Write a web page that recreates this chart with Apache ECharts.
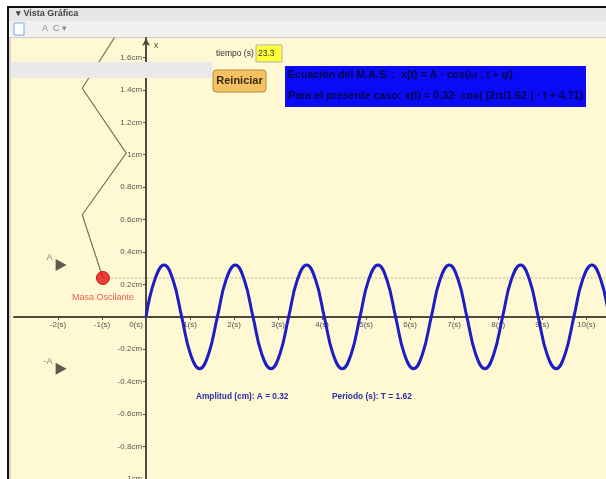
<!DOCTYPE html>
<html><head><meta charset="utf-8">
<script src="https://cdn.jsdelivr.net/npm/echarts@6/dist/echarts.min.js"></script>
<style>html,body{margin:0;padding:0;background:#fff}#c{width:606px;height:479px}</style>
</head><body><div id="c"></div>
<script>
// Oscillation curve x(t) (t in s, x in cm)
const curveT = [0,0.20,0.41,0.61,0.81,1.01,1.22,1.42,1.62,1.82,2.03,2.23,2.43,2.63,2.84,3.04,3.24,3.44,3.65,3.85,4.05,4.25,4.46,4.66,4.86,5.06,5.27,5.47,5.67,5.87,6.08,6.28,6.48,6.68,6.89,7.09,7.29,7.49,7.70,7.90,8.10,8.30,8.51,8.71,8.91,9.11,9.32,9.52,9.72,9.92,10.13,10.33,10.53,10.73];
const curveX = [0,0.23,0.32,0.23,0,-0.23,-0.32,-0.23, 0,0.23,0.32,0.23,0,-0.23,-0.32,-0.23, 0,0.23,0.32,0.23,0,-0.23,-0.32,-0.23, 0,0.23,0.32,0.23,0,-0.23,-0.32,-0.23, 0,0.23,0.32,0.23,0,-0.23,-0.32,-0.23, 0,0.23,0.32,0.23,0,-0.23,-0.32,-0.23, 0,0.23,0.32,0.23,0,-0.23];
// Spring polyline vertices
const springT = [-0.70,-1.45,-0.45,-1.45,-0.98];
const springX = [1.73,1.41,1.01,0.63,0.24];
// Oscillating mass and its level line
const massT = [-0.98];
const massX = [0.24];
const levelT = [-0.98, 10.6];
const levelX = [0.24, 0.24];
// Amplitude markers
const markerT = [-1.93, -1.93];
const markerX = [0.32, -0.32];
const markerNames = ['A', '-A'];
// Axis ranges / tick intervals
const xMin = -3, xMax = 10.45, xStep = 1;
const yMin = -1, yMax = 1.72, yStep = 0.2;

const zip = (a, b) => a.map((v, i) => [v, b[i]]);
const chart = echarts.init(document.getElementById('c'));
const F = 'Liberation Sans, Arial, sans-serif';
const axisCol = '#4e4a3c';
const W = 606, H = 479, gL = 14, gT = 38;
// place each axis at the other's zero, through the scales
const pxPerY = (H - gT) / (yMax - yMin);
const pxPerX = (W - gL) / (xMax - xMin);
const xAxisOffset = -((0 - yMin) * pxPerY);
const yAxisOffset = -((0 - xMin) * pxPerX);

chart.setOption({
  animation: false,
  backgroundColor: '#ffffff',
  graphic: [
    {type:'rect', shape:{x:7,y:6,width:600,height:474}, style:{fill:'#111'}, z:-10, silent:true},
    {type:'rect', shape:{x:9,y:8,width:598,height:13}, style:{fill:'#e6e6e6'}, z:-9},
    {type:'text', x:16, y:9, style:{text:'▾ Vista Gráfica', font:'bold 9px '+F, fill:'#444'}, z:-8},
    {type:'rect', shape:{x:9,y:21,width:598,height:17}, style:{fill:'#f0f0f0'}, z:-9},
    {type:'line', shape:{x1:9,y1:37.5,x2:606,y2:37.5}, style:{stroke:'#cfcfcf', lineWidth:1}, z:-8},
    {type:'rect', shape:{x:14,y:23,width:10,height:12}, style:{fill:'#fff', stroke:'#7ea6e0', lineWidth:1}, z:-8},
    {type:'text', x:42, y:24, style:{text:'A  C ▾', font:'9px '+F, fill:'#888'}, z:-8},
    {type:'rect', shape:{x:9,y:38,width:598,height:442}, style:{fill:'#fef9d3'}, z:-9},
    {type:'rect', shape:{x:9,y:38,width:2,height:442}, style:{fill:'#d6d6d6'}, z:-8},
    {type:'rect', shape:{x:11,y:62,width:201,height:16}, style:{fill:'#e9e9ec'}, z:100},
    {type:'text', x:216, y:49, style:{text:'tiempo (s)', font:'8.5px '+F, fill:'#333'}, z:100},
    {type:'rect', shape:{x:256,y:45,width:26,height:17}, style:{fill:'#ffff3a', stroke:'#b0b0b0', lineWidth:1}, z:100},
    {type:'text', x:258, y:49, style:{text:'23.3', font:'8.5px '+F, fill:'#333'}, z:101},
    {type:'rect', shape:{x:213,y:70,width:53,height:22, r:3}, style:{fill:'#f5c165', stroke:'#b98a3a', lineWidth:1}, z:100},
    {type:'text', x:239.5, y:81, style:{text:'Reiniciar', font:'bold 11px '+F, fill:'#3a2a10', align:'center', verticalAlign:'middle'}, z:101},
    {type:'rect', shape:{x:285,y:66,width:301,height:41}, style:{fill:'#0a0af5'}, z:100},
    {type:'text', x:288, y:70, style:{text:'Ecuación del M.A.S. :  x(t) = A · cos(ω . t + φ)', font:'bold 10.6px '+F, fill:'#06064a'}, z:101},
    {type:'text', x:288, y:91, style:{text:'Para el presente caso: x(t) = 0.32· cos( (2π/1.62 ) · t + 4.71)', font:'bold 10.7px '+F, fill:'#06064a'}, z:101},
    {type:'text', x:196, y:393, style:{text:'Amplitud (cm): A = 0.32', font:'bold 8.3px '+F, fill:'#2b2ba6'}, z:100},
    {type:'text', x:332, y:393, style:{text:'Periodo (s): T = 1.62', font:'bold 8.4px '+F, fill:'#2b2ba6'}, z:100}
  ],
  grid: {left:gL, right:0, top:gT, bottom:0, show:false, containLabel:false, outerBoundsMode:'none'},
  xAxis: {
    type:'value', min:xMin, max:xMax, interval:xStep, position:'bottom', offset:xAxisOffset,
    axisLine:{onZero:false, lineStyle:{color:axisCol, width:2}},
    axisTick:{show:true, length:3, inside:false, lineStyle:{color:axisCol}},
    splitLine:{show:false},
    axisLabel:{margin:4, fontSize:8, fontFamily:F, color:'#555', showMinLabel:false, showMaxLabel:false,
      formatter: v => v === 0 ? '{z|0(s)}' : Math.round(v) + '(s)',
      rich:{z:{fontSize:8, fontFamily:F, color:'#555', padding:[0,20,0,0]}}}
  },
  yAxis: {
    type:'value', min:yMin, max:yMax, interval:yStep, position:'left', offset:yAxisOffset,
    name:'x', nameLocation:'end', nameGap:-12,
    nameTextStyle:{align:'left', padding:[0,0,0,8], fontSize:9, fontFamily:F, color:'#555'},
    axisLine:{onZero:false, lineStyle:{color:axisCol, width:2}, symbol:['none','arrow'], symbolSize:[6,8]},
    axisTick:{show:true, length:3, lineStyle:{color:axisCol}},
    splitLine:{show:false},
    axisLabel:{margin:4, fontSize:8, fontFamily:F, color:'#555', showMaxLabel:false,
      formatter: v => { const r = parseFloat(v.toFixed(1)); return r === 0 ? '' : r + 'cm'; }}
  },
  series: [
    {type:'line', data:zip(levelT, levelX), showSymbol:false, silent:true,
     lineStyle:{color:'#b9b29a', width:1, type:[2,2]}, z:2},
    {type:'line', data:zip(springT, springX), showSymbol:false, silent:true,
     lineStyle:{color:'#7a7260', width:1.2}, z:3},
    {type:'line', data:zip(curveT, curveX), showSymbol:false, smooth:0.45, clip:true,
     lineStyle:{color:'#1d1dc4', width:3}, z:4},
    {type:'scatter', data:zip(massT, massX), symbolSize:13,
     itemStyle:{color:'#e81010', borderColor:'#b00000', borderWidth:1}, z:5,
     label:{show:true, position:'bottom', distance:8, formatter:'Masa Oscilante', fontSize:9, fontFamily:F, color:'#ee3333'}},
    {type:'scatter', data:zip(markerT, markerX), symbol:'triangle', symbolSize:[12,11], symbolRotate:-90,
     itemStyle:{color:'#333'}, z:5,
     label:{show:true, position:'left', offset:[2,-7], formatter: p => markerNames[p.dataIndex], fontSize:9, fontFamily:F, color:'#666'}}
  ]
});
</script></body></html>
